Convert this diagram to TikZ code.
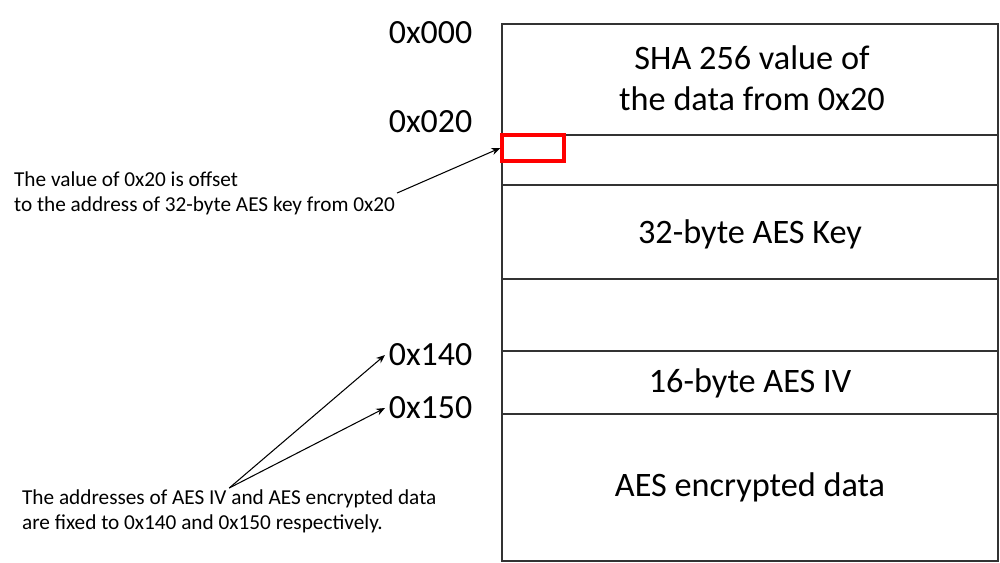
\documentclass[tikz,border=0pt]{standalone}
\usepackage{fontspec}
\setmainfont{Carlito}
\usetikzlibrary{arrows.meta}
\tikzset{
  mem/.style={draw=black!80, line width=0.8pt},
  big/.style={font=\fontsize{19.5}{23.2}\selectfont, align=center},
  addr/.style={font=\fontsize{19.3}{23}\selectfont, inner sep=2pt, anchor=west},
  note/.style={font=\fontsize{12.1}{14.2}\selectfont, align=left, inner sep=1pt},
  redbox/.style={draw=red, line width=2pt, minimum width=1.24cm, minimum height=0.52cm, inner sep=0pt},
}
\begin{document}
\begin{tikzpicture}[x=0.02cm, y=-0.02cm, >={Stealth[length=5pt,width=4pt]}]
    \useasboundingbox (0,0) rectangle (1000,562);

    % Dibuja la memoria
    \draw[mem] (502,24) rectangle (998,561);
    \foreach \y in {135,185,279,351,414}
        \draw[mem] (502,\y) -- (998,\y);

    % Contenido de los bloques
    \node[big] (sha) at (752,78) {SHA 256 value of\\the data from 0x20};
    \node[big] (key) at (750,234) {32-byte AES Key};
    \node[big] (iv) at (750,383) {16-byte AES IV};
    \node[big] (enc) at (750,487) {AES encrypted data};
    \node[redbox] (off) at (533,148) {};

    % Direcciones
    \node[addr] (a000) at (385,33) {0x000};
    \node[addr] (a020) at (385,122) {0x020};
    \node[addr] (a140) at (385,355) {0x140};
    \node[addr] (a150) at (385,408) {0x150};

    % Notas
    \node[note, anchor=west] (n1) at (12,193) {The value of 0x20 is offset\\to the address of 32-byte AES key from 0x20};
    \node[note, anchor=north west] (n2) at (20,488) {The addresses of AES IV and AES encrypted data\\are fixed to 0x140 and 0x150 respectively.};
    \draw[->, line width=0.6pt] (n1.east) -- (off.west);
    \draw[->, line width=0.6pt] (n2.north) -- (a140.west);
    \draw[->, line width=0.6pt] (n2.north) -- (a150.west);
\end{tikzpicture}
\end{document}
